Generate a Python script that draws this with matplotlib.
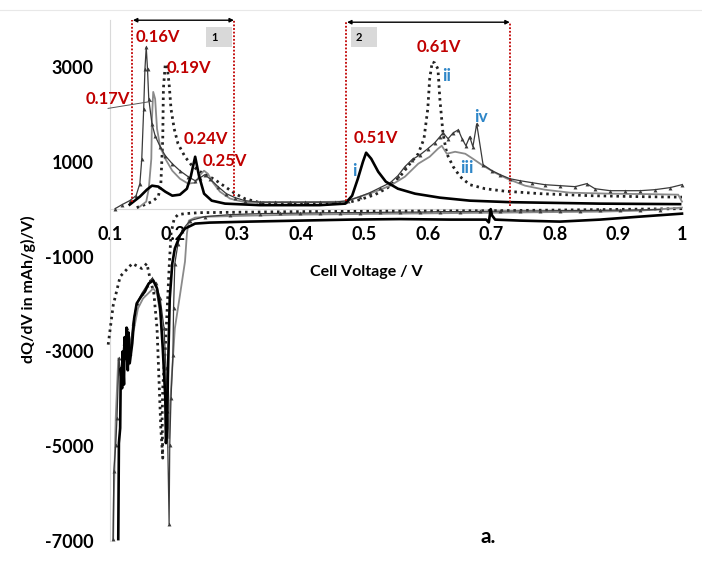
import matplotlib.pyplot as plt
from matplotlib.patches import Rectangle
from matplotlib.lines import Line2D

plt.rcParams['font.family'] = ['Lato', 'DejaVu Sans']
plt.rcParams['font.weight'] = 'bold'

RED = '#C00000'
BLUE = '#2E86C8'

# cycle A (thick black): charge branch then discharge branch
a_chg_v = [0.131, 0.147, 0.158, 0.166, 0.176, 0.187, 0.198, 0.210, 0.221, 0.227, 0.234, 0.240,
           0.248, 0.260, 0.281, 0.336, 0.430, 0.470, 0.481, 0.490, 0.498, 0.503, 0.511, 0.522,
           0.534, 0.553, 0.580, 0.619, 0.666, 0.729, 0.871, 0.997]
a_chg_q = [95, 263, 410, 495, 475, 368, 284, 305, 431, 684, 1105, 705,
           326, 179, 116, 84, 84, 116, 284, 642, 1000, 1190, 1063, 789,
           579, 431, 326, 242, 179, 147, 116, 105]
a_dis_v = [1.0, 0.934, 0.871, 0.808, 0.745, 0.706, 0.701, 0.699, 0.696, 0.692, 0.635, 0.556,
           0.478, 0.399, 0.320, 0.257, 0.234, 0.218, 0.210, 0.202, 0.198, 0.194, 0.191, 0.190,
           0.188, 0.187, 0.183, 0.179, 0.174, 0.168, 0.161, 0.155, 0.149, 0.142, 0.138, 0.135,
           0.131, 0.129, 0.128, 0.126, 0.125, 0.123, 0.122, 0.120, 0.119, 0.117, 0.116, 0.114,
           0.113]
a_dis_q = [-95, -158, -221, -263, -242, -221, -130, 0, -280, -221, -221, -210,
           -221, -242, -263, -284, -305, -410, -558, -831, -1147, -1884, -3568, -4620,
           -4936, -3989, -2936, -2094, -1673, -1505, -1568, -1737, -1842, -1989, -2305, -2831,
           -3252, -2600, -3400, -2500, -3150, -2700, -3700, -3000, -3779, -3357, -4620, -4936,
           -6960]

# cycle B (gray)
b_chg_v = [0.147, 0.157, 0.161, 0.165, 0.166, 0.168, 0.171, 0.174, 0.179, 0.187, 0.198, 0.210,
           0.223, 0.234, 0.242, 0.248, 0.254, 0.262, 0.273, 0.289, 0.312, 0.399, 0.470, 0.493,
           0.517, 0.541, 0.564, 0.585, 0.603, 0.616, 0.622, 0.630, 0.643, 0.659, 0.671, 0.687,
           0.706, 0.725, 0.753, 0.784, 0.824, 0.887, 0.950, 0.994, 1.0]
b_chg_q = [53, 158, 431, 1063, 1905, 2473, 2326, 1694, 1316, 1063, 810, 642,
           537, 558, 726, 810, 747, 558, 368, 221, 147, 147, 158, 263,
           368, 495, 684, 958, 1105, 1274, 1337, 1168, 1210, 1168, 1063, 916,
           768, 642, 495, 410, 347, 326, 316, 305, 158]
b_dis_v = [1.0, 0.934, 0.871, 0.792, 0.714, 0.635, 0.556, 0.478, 0.399, 0.320, 0.257, 0.234,
           0.224, 0.221, 0.218, 0.210, 0.202, 0.198, 0.194, 0.193, 0.190, 0.185, 0.180, 0.174,
           0.168, 0.160, 0.152, 0.144, 0.138, 0.131, 0.129, 0.127, 0.125, 0.122, 0.120, 0.117,
           0.113, 0.109, 0.108, 0.106, 0.105]
b_dis_q = [32, -32, -53, -63, -74, -84, -95, -105, -116, -137, -158, -179,
           -242, -516, -1105, -1821, -2515, -3357, -4199, -4831, -4305, -3147, -2305, -1779,
           -1673, -1779, -1884, -2094, -2515, -2831, -3300, -2620, -3200, -2900, -3500, -3568,
           -3147, -4410, -4978, -6094, -6960]

# cycle C (dotted black)
c_chg_v = [0.142, 0.155, 0.166, 0.176, 0.180, 0.183, 0.184, 0.187, 0.190, 0.193, 0.196, 0.201,
           0.207, 0.218, 0.229, 0.242, 0.254, 0.265, 0.281, 0.297, 0.312, 0.336, 0.399, 0.470,
           0.493, 0.517, 0.537, 0.556, 0.572, 0.585, 0.594, 0.600, 0.603, 0.607, 0.611, 0.616,
           0.619, 0.624, 0.630, 0.640, 0.651, 0.666, 0.690, 0.721, 0.777, 0.855, 0.934, 1.0]
c_chg_q = [32, 95, 158, 263, 537, 1484, 2536, 3063, 3000, 2642, 2115, 1694,
           1379, 1105, 916, 789, 705, 621, 474, 326, 221, 137, 116, 126,
           200, 305, 453, 684, 958, 1168, 1484, 2115, 2747, 3105, 3084, 2957,
           2326, 1589, 1168, 895, 684, 516, 431, 379, 326, 284, 263, 253]
c_dis_v = [1.0, 0.871, 0.714, 0.556, 0.399, 0.320, 0.242, 0.218, 0.207, 0.201, 0.196, 0.193,
           0.190, 0.187, 0.183, 0.182, 0.183, 0.180, 0.177, 0.174, 0.169, 0.163, 0.158, 0.150,
           0.135, 0.116, 0.105, 0.097]
c_dis_q = [10, -10, -32, -42, -53, -63, -74, -95, -116, -200, -516, -1252,
           -2094, -2936, -3779, -4410, -5252, -4631, -3568, -2515, -1779, -1463, -1147, -1252,
           -1147, -1421, -2031, -2873]

# cycle D (thin line with triangle markers)
d_chg_v = [0.108, 0.119, 0.131, 0.141, 0.147, 0.150, 0.153, 0.155, 0.157, 0.159, 0.161, 0.166,
           0.171, 0.179, 0.187, 0.198, 0.210, 0.223, 0.234, 0.242, 0.249, 0.257, 0.270, 0.283,
           0.297, 0.312, 0.336, 0.359, 0.383, 0.407, 0.430, 0.454, 0.474, 0.493, 0.509, 0.525,
           0.541, 0.553, 0.564, 0.575, 0.588, 0.600, 0.611, 0.619, 0.624, 0.632, 0.640, 0.648,
           0.654, 0.660, 0.666, 0.671, 0.677, 0.687, 0.701, 0.714, 0.729, 0.745, 0.764, 0.784,
           0.808, 0.832, 0.850, 0.863, 0.887, 0.910, 0.934, 0.957, 0.981, 1.0]
d_chg_q = [10, 95, 179, 284, 537, 1063, 2115, 2957, 3420, 2957, 2326, 1800,
           1547, 1316, 1126, 958, 810, 684, 600, 663, 726, 642, 474, 326,
           242, 179, 147, 147, 147, 147, 147, 147, 179, 263, 347, 453,
           558, 705, 895, 1042, 1147, 1274, 1400, 1526, 1610, 1484, 1610, 1673,
           1484, 1337, 1526, 1316, 1800, 937, 810, 726, 642, 600, 558, 516,
           495, 474, 537, 431, 389, 389, 389, 410, 453, 516]
d_dis_v = [0.965, 0.934, 0.902, 0.871, 0.839, 0.808, 0.777, 0.745, 0.714, 0.682, 0.651, 0.619,
           0.588, 0.556, 0.525, 0.493, 0.462, 0.430, 0.399, 0.367, 0.336, 0.289, 0.249, 0.226,
           0.213, 0.207, 0.202, 0.200, 0.199, 0.196, 0.194, 0.193, 0.190, 0.188, 0.185, 0.179,
           0.172, 0.166, 0.158, 0.150, 0.142, 0.136, 0.131, 0.127, 0.122, 0.117, 0.114, 0.111,
           0.109, 0.106, 0.105]
d_dis_q = [-10, -16, -21, -26, -32, -32, -37, -37, -42, -47, -53, -53,
           -63, -63, -68, -74, -74, -79, -84, -90, -95, -116, -158, -242,
           -453, -726, -1147, -2094, -3084, -3989, -4978, -6641, -4263, -3357, -2515, -1884,
           -1568, -1463, -1610, -1779, -1989, -2410, -3042, -2515, -2831, -3463, -3147, -4410,
           -4978, -5526, -6960]

y_ticks = [-7000, -5000, -3000, -1000, 1000, 3000]
x_ticks = [0.1, 0.2, 0.3, 0.4, 0.5, 0.6, 0.7, 0.8, 0.9, 1.0]
x_tick_labels = ['0.1', '0.2', '0.3', '0.4', '0.5', '0.6', '0.7', '0.8', '0.9', '1']

fig = plt.figure(figsize=(7.02, 5.62), dpi=100)
ax = fig.add_axes([0.1567, 0.0374, 0.8148, 0.9279])

dot = (0, (0.9, 1.4))
for v, q in [(c_chg_v, c_chg_q), (c_dis_v, c_dis_q)]:
    ax.plot(v, q, color='#222222', lw=2.0, ls=dot, clip_on=False, zorder=3)
for v, q in [(b_chg_v, b_chg_q), (b_dis_v, b_dis_q)]:
    ax.plot(v, q, color='#8a8a8a', lw=1.3, clip_on=False, zorder=3)
for v, q in [(d_chg_v, d_chg_q), (d_dis_v, d_dis_q)]:
    ax.plot(v, q, color='#3a3a3a', lw=0.9, marker='^', ms=2.8, mew=0, clip_on=False, zorder=4)
for v, q in [(a_chg_v, a_chg_q), (a_dis_v, a_dis_q)]:
    ax.plot(v, q, color='black', lw=1.9, clip_on=False, zorder=5)

ax.set_xlim(0.1, 1.0)
ax.set_ylim(-7000, 4000)

for s in ['top', 'right']:
    ax.spines[s].set_visible(False)
ax.spines['bottom'].set_position(('data', 0))
ax.spines['bottom'].set_color('#d9d9d9')
ax.spines['left'].set_color('#d9d9d9')

ax.set_yticks(y_ticks)
ax.set_yticklabels([str(t) for t in y_ticks])
ax.set_xticks(x_ticks)
ax.set_xticklabels(x_tick_labels)
ax.tick_params(axis='y', length=0, pad=12, labelsize=13)
ax.tick_params(axis='x', length=0, pad=12, labelsize=13)

# region brackets
regions = [(0.134, 0.295, 3985, 150, 270), (0.471, 0.729, 3943, 170, 60)]
for x0, x1, ytop, yb0, yb1 in regions:
    ax.plot([x0, x0], [yb0, ytop], color=RED, lw=1.3, ls=(0, (1, 1)), zorder=6)
    ax.plot([x1, x1], [yb1, ytop], color=RED, lw=1.3, ls=(0, (1, 1)), zorder=6)
    ax.annotate('', xy=(x1, ytop), xytext=(x0 + 0.002, ytop),
                arrowprops=dict(arrowstyle='<|-|>', color='black', lw=1.0,
                                mutation_scale=6, shrinkA=0, shrinkB=0))

for bx, lab in [(0.251, '1'), (0.479, '2')]:
    ax.add_patch(Rectangle((bx, 3410), 0.041, 440, facecolor='#d9d9d9', edgecolor='none', zorder=6))
    ax.text(bx + 0.008, 3630, lab, fontsize=8, va='center', ha='left', zorder=7)

peak_labels = [('0.16V', 0.1755, 3640), ('0.19V', 0.2235, 2970), ('0.17V', 0.0969, 2315),
               ('0.24V', 0.251, 1475), ('0.25V', 0.280, 1010), ('0.51V', 0.5185, 1495),
               ('0.61V', 0.6168, 3410)]
for t, x, y in peak_labels:
    ax.text(x, y, t, color=RED, fontsize=12, ha='center', va='center', zorder=8)
ax.plot([0.097, 0.166], [2125, 2275], color='#555555', lw=0.7, clip_on=False, zorder=7)

roman = [('i', 0.4839, 800), ('ii', 0.630, 2800), ('iii', 0.6617, 860), ('iv', 0.684, 1950)]
for t, x, y in roman:
    ax.text(x, y, t, color=BLUE, fontsize=12.5, ha='center', va='center', zorder=8)

fig.text(366 / 702, 1 - 272 / 562, 'Cell Voltage / V', fontsize=11.5, ha='center', va='center')
fig.text(28 / 702, 1 - 289 / 562, 'dQ/dV in mAh/g)/V)', fontsize=11.5, rotation=90,
         ha='center', va='center')
fig.text(488 / 702, 1 - 537 / 562, 'a.', fontsize=15, ha='center', va='center')
fig.add_artist(Line2D([0, 1], [1 - 10 / 562, 1 - 10 / 562], color='#e8e8e8', lw=0.8))

fig.savefig('out.png', dpi=100)
